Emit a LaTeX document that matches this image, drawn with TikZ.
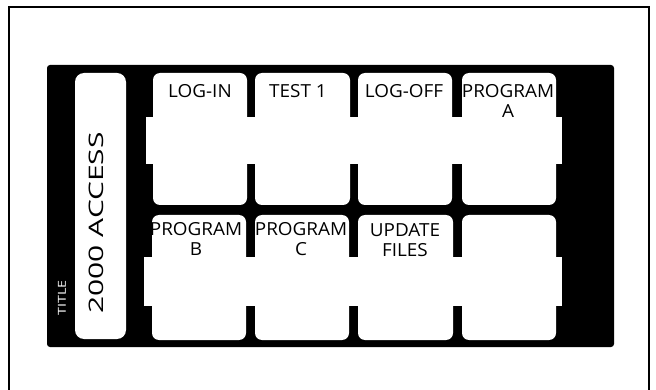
\documentclass[tikz,border=0pt]{standalone}
\usepackage{fontspec}
\setmainfont{Open Sans}
\begin{document}
\begin{tikzpicture}[x=1pt,y=-1pt,
  keyface/.style={fill=white,draw=none,rounded corners=7pt},
  bandface/.style={fill=white,draw=none},
  keylabel/.style={font=\fontsize{18}{20}\selectfont,align=center,anchor=north,inner sep=0pt,xscale=1.05}]
\useasboundingbox (0,0) rectangle (656,390);
\fill[white] (0,0) rectangle (656,390);
% outer frame
\draw[line width=1.8pt] (9,420) -- (9,7) -- (649,7) -- (649,420);
% black panel
\fill[black,rounded corners=3pt] (47,65) rectangle (614,347);
% title strip
\fill[white,rounded corners=9pt] (75,73) rectangle (126,339);
\node[white,rotate=90,font=\fontsize{11}{12}\selectfont,xscale=1.3] (ttl) at (62,298) {TITLE};
\node[rotate=90,font=\fontsize{20}{24}\selectfont,xscale=1.5] (acc) at (96,223) {2000 ACCESS};
% row 1
\fill[bandface] (146,117) rectangle (562,164);
\fill[keyface] (153,73) rectangle (247,205);
\fill[keyface] (255,73) rectangle (350,205);
\fill[keyface] (358,73) rectangle (452,205);
\fill[keyface] (462,73) rectangle (556,205);
% row 2
\fill[bandface] (144,257) rectangle (562,306);
\fill[keyface] (152,215) rectangle (246,340);
\fill[keyface] (255,215) rectangle (349,340);
\fill[keyface] (358,215) rectangle (453,340);
\fill[keyface] (462,215) rectangle (556,340);
% labels
\node[keylabel] (k1) at (200,84) {LOG-IN};
\node[keylabel] (k2) at (298,84) {TEST 1};
\node[keylabel] (k3) at (404,84) {LOG-OFF};
\node[keylabel] (k4) at (508,84) {PROGRAM\\A};
\node[keylabel] (k5) at (196,222) {PROGRAM\\B};
\node[keylabel] (k6) at (301,222) {PROGRAM\\C};
\node[keylabel] (k7) at (405,223) {UPDATE\\FILES};
\end{tikzpicture}
\end{document}
